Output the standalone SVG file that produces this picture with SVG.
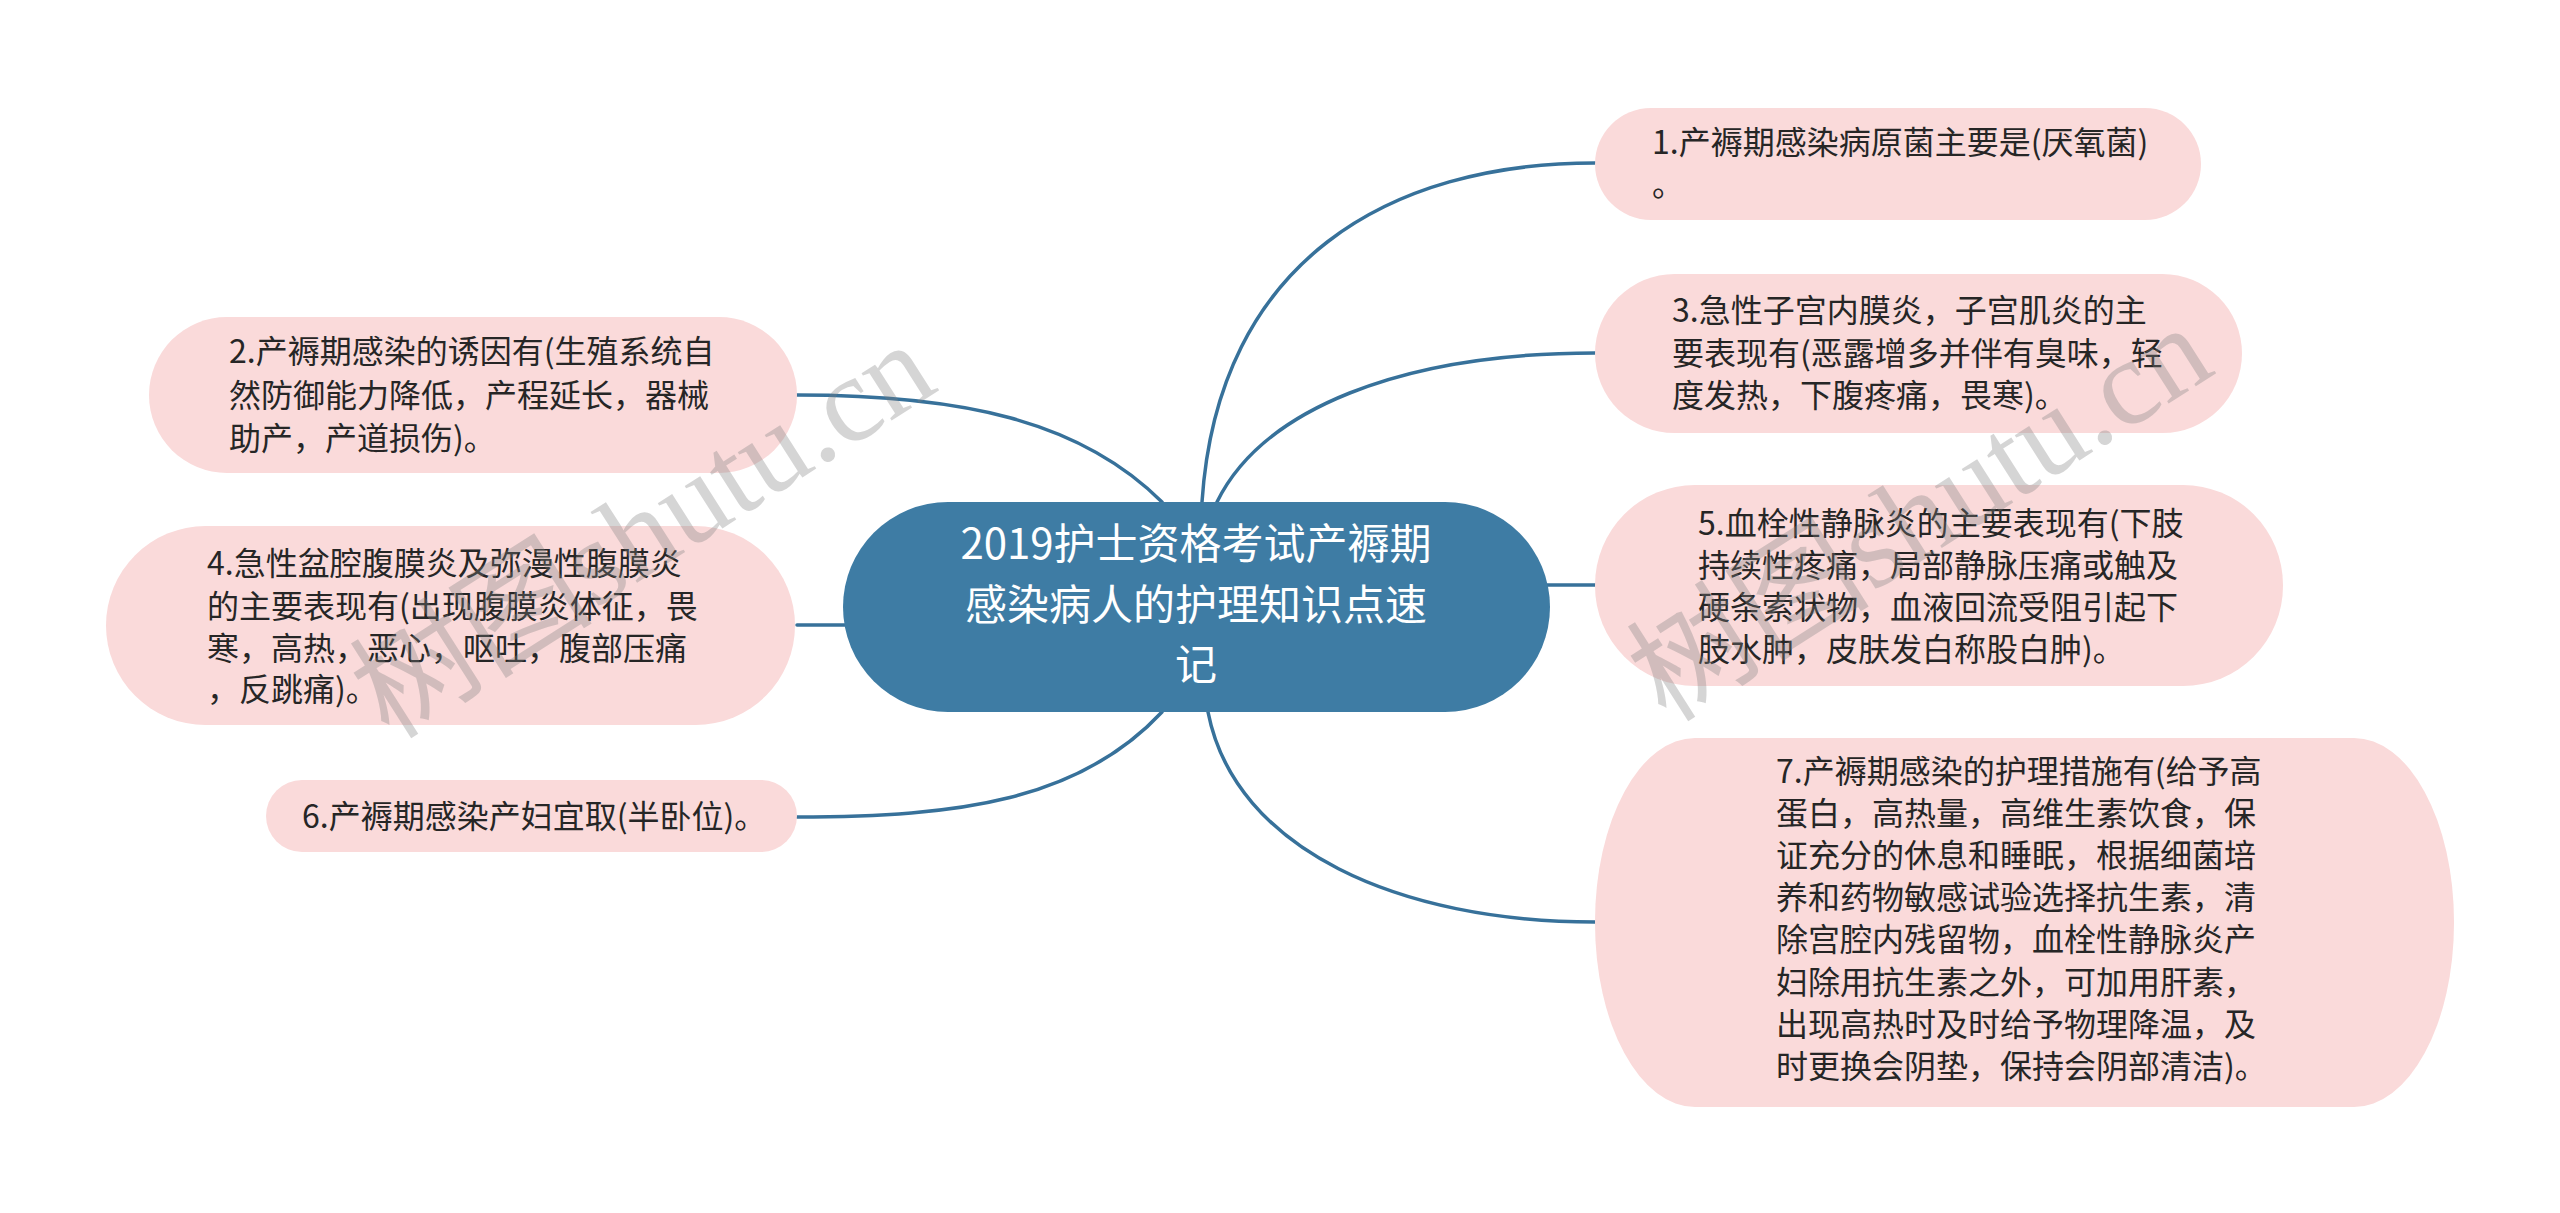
<svg xmlns="http://www.w3.org/2000/svg" width="2560" height="1213" viewBox="0 0 2560 1213">
<style>
.bg{fill:#ffffff}
.conn{fill:none;stroke:#37719a;stroke-width:3.5;stroke-linecap:round}
.child{fill:#fadada}
.root{fill:#3e7ca4}
.t{font-family:"Noto Sans CJK SC","Noto Sans",sans-serif;font-size:32px;fill:#262626}
.rt{font-family:"Noto Sans CJK SC","Noto Sans",sans-serif;font-size:42px;fill:#ffffff;text-anchor:middle}
.wm{font-family:"Liberation Serif","Noto Sans CJK SC",serif;font-size:122px;fill:#808080;fill-opacity:0.33;text-anchor:middle}
</style>
<rect class="bg" x="0" y="0" width="2560" height="1213"/>
<g id="connectors">
<path class="conn" d="M1202,502 C1218,260 1390,163 1595,163"/>
<path class="conn" d="M1217,502 C1262,410 1400,353 1595,353"/>
<path class="conn" d="M1546,585 L1595,585"/>
<path class="conn" d="M1208,712 C1235,850 1400,922 1595,922"/>
<path class="conn" d="M1162,502 C1080,420 960,395 797,395"/>
<path class="conn" d="M846,625 L797,625"/>
<path class="conn" d="M1162,712 C1080,800 960,817 797,817"/>
</g>
<g id="root">
<rect class="root" x="843" y="502" width="707" height="210" rx="105" ry="105"/>
<text class="rt" x="1196" y="559">2019护士资格考试产褥期</text>
<text class="rt" x="1196" y="620">感染病人的护理知识点速</text>
<text class="rt" x="1196" y="680">记</text>
</g>
<g id="node1">
<rect class="child" x="1595" y="108" width="606" height="112" rx="56" ry="56"/>
<text class="t" x="1652" y="154">1.产褥期感染病原菌主要是(厌氧菌)</text>
<text class="t" x="1652" y="196">。</text>
</g>
<g id="node3">
<rect class="child" x="1595" y="274" width="647" height="159" rx="79.5" ry="79.5"/>
<text class="t" x="1672" y="322">3.急性子宫内膜炎，子宫肌炎的主</text>
<text class="t" x="1672" y="365">要表现有(恶露增多并伴有臭味，轻</text>
<text class="t" x="1672" y="407">度发热，下腹疼痛，畏寒)。</text>
</g>
<g id="node5">
<rect class="child" x="1595" y="485" width="688" height="201" rx="100" ry="100"/>
<text class="t" x="1698" y="535">5.血栓性静脉炎的主要表现有(下肢</text>
<text class="t" x="1698" y="577">持续性疼痛，局部静脉压痛或触及</text>
<text class="t" x="1698" y="619">硬条索状物，血液回流受阻引起下</text>
<text class="t" x="1698" y="661">肢水肿，皮肤发白称股白肿)。</text>
</g>
<g id="node7">
<rect class="child" x="1595" y="738" width="859" height="369" rx="100" ry="184"/>
<text class="t" x="1776" y="783">7.产褥期感染的护理措施有(给予高</text>
<text class="t" x="1776" y="825">蛋白，高热量，高维生素饮食，保</text>
<text class="t" x="1776" y="867">证充分的休息和睡眠，根据细菌培</text>
<text class="t" x="1776" y="909">养和药物敏感试验选择抗生素，清</text>
<text class="t" x="1776" y="951">除宫腔内残留物，血栓性静脉炎产</text>
<text class="t" x="1776" y="994">妇除用抗生素之外，可加用肝素，</text>
<text class="t" x="1776" y="1036">出现高热时及时给予物理降温，及</text>
<text class="t" x="1776" y="1078">时更换会阴垫，保持会阴部清洁)。</text>
</g>
<g id="node2">
<rect class="child" x="149" y="317" width="648" height="156" rx="78" ry="78"/>
<text class="t" x="229" y="363">2.产褥期感染的诱因有(生殖系统自</text>
<text class="t" x="229" y="407">然防御能力降低，产程延长，器械</text>
<text class="t" x="229" y="450">助产，产道损伤)。</text>
</g>
<g id="node4">
<rect class="child" x="106" y="526" width="689" height="199" rx="99.5" ry="99.5"/>
<text class="t" x="207" y="575">4.急性盆腔腹膜炎及弥漫性腹膜炎</text>
<text class="t" x="207" y="618">的主要表现有(出现腹膜炎体征，畏</text>
<text class="t" x="207" y="660">寒，高热，恶心，呕吐，腹部压痛</text>
<text class="t" x="207" y="701">，反跳痛)。</text>
</g>
<g id="node6">
<rect class="child" x="266" y="780" width="531" height="72" rx="36" ry="36"/>
<text class="t" x="302" y="828">6.产褥期感染产妇宜取(半卧位)。</text>
</g>
<g id="watermark">
<text class="wm" transform="translate(665,565) rotate(-32.5)">树图shutu.cn</text>
<text class="wm" transform="translate(1942,548) rotate(-32.5)">树图shutu.cn</text>
</g>
</svg>
